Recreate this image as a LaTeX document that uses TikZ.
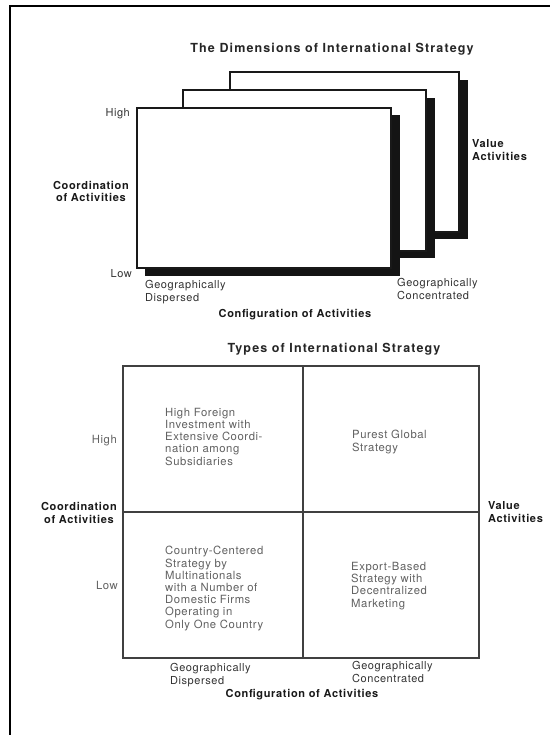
\documentclass[tikz,border=0pt]{standalone}
\usepackage{fontspec}
\setmainfont{TeX Gyre Heros}
\newfontfamily\plainface[LetterSpace=5]{TeX Gyre Heros}
\newfontfamily\boldface[LetterSpace=6]{TeX Gyre Heros}
\newfontfamily\titleface[LetterSpace=9]{TeX Gyre Heros}

\begin{document}
\begin{tikzpicture}[x=1pt,y=-1pt,
  plain/.style={font=\plainface\fontsize{11}{12.2}\selectfont, inner sep=0pt, align=left, text=black!80},
  celltext/.style={plain, font=\plainface\fontsize{11.3}{12.2}\selectfont, text=black!62},
  heavy/.style={font=\boldface\bfseries\fontsize{11}{13}\selectfont, inner sep=0pt, text=black!90},
  heading/.style={font=\titleface\bfseries\fontsize{12.5}{14}\selectfont, inner sep=0pt, text=black!85},
  sheet/.style={draw=black!90, line width=1.2pt, fill=white},
  shadow/.style={fill=black!92, draw=none},
  grid/.style={draw=black!75, line width=1.1pt}
]
\useasboundingbox (0,0) rectangle (550,735);
\fill[white] (0,0) rectangle (550,735);

% page frame: left and top rules
\draw[line width=2.6pt, black] (10,735) -- (10,6) -- (550,6);

% ---------- The Dimensions of International Strategy ----------
\node[heading, anchor=base] (title1) at (332,52.5) {The Dimensions of International Strategy};

% three stacked sheets with dark drop shadows, back to front
\fill[shadow] (239,80) rectangle (468,239);
\draw[sheet] (230,72) rectangle (459,232);
\fill[shadow] (192,98) rectangle (435,258);
\draw[sheet] (183,90) rectangle (426,251);
\fill[shadow] (145,115) rectangle (400,276);
\draw[sheet] (137,108) rectangle (391,268);

% multi-line nodes are placed by the baseline of their last line
\node[plain, anchor=base east] (high1) at (130,117) {High};
\node[plain, anchor=base east] (low1) at (132,277) {Low};
\node[heavy, align=center, anchor=base east] (coord1) at (129,202) {Coordination\\of Activities};
\node[heavy, align=left, anchor=base west] (value1) at (472,161) {Value\\Activities};
\node[plain, anchor=base west] (disp1) at (145,301) {Geographically\\Dispersed};
\node[plain, anchor=base west] (conc1) at (397,299) {Geographically\\Concentrated};
\node[heavy, anchor=base] (config1) at (295,317) {Configuration of Activities};

% ---------- Types of International Strategy ----------
\node[heading, anchor=base] (title2) at (334,352) {Types of International Strategy};

\draw[grid] (123,366) rectangle (479,658);
\draw[grid] (303,366) -- (303,658);
\draw[grid] (123,512) -- (479,512);

\node[celltext, anchor=base west] (cellTL) at (165,465)
  {High Foreign\\Investment with\\Extensive Coordi-\\nation among\\Subsidiaries};
\node[celltext, anchor=base west] (cellTR) at (352,451) {Purest Global\\Strategy};
\node[celltext, anchor=base west] (cellBL) at (165,628)
  {Country-Centered\\Strategy by\\Multinationals\\with a Number of\\Domestic Firms\\Operating in\\Only One Country};
\node[celltext, anchor=base west] (cellBR) at (351,607)
  {Export-Based\\Strategy with\\Decentralized\\Marketing};

\node[celltext, anchor=base east] (high2) at (117,443) {High};
\node[celltext, anchor=base east] (low2) at (118,589) {Low};
\node[heavy, align=center, anchor=base east] (coord2) at (117,523) {Coordination\\of Activities};
\node[heavy, align=left, anchor=base west] (value2) at (488,522) {Value\\Activities};
\node[plain, anchor=base west] (disp2) at (170,684) {Geographically\\Dispersed};
\node[plain, anchor=base west] (conc2) at (352,682) {Geographically\\Concentrated};
\node[heavy, anchor=base] (config2) at (302,697) {Configuration of Activities};
\end{tikzpicture}
\end{document}
